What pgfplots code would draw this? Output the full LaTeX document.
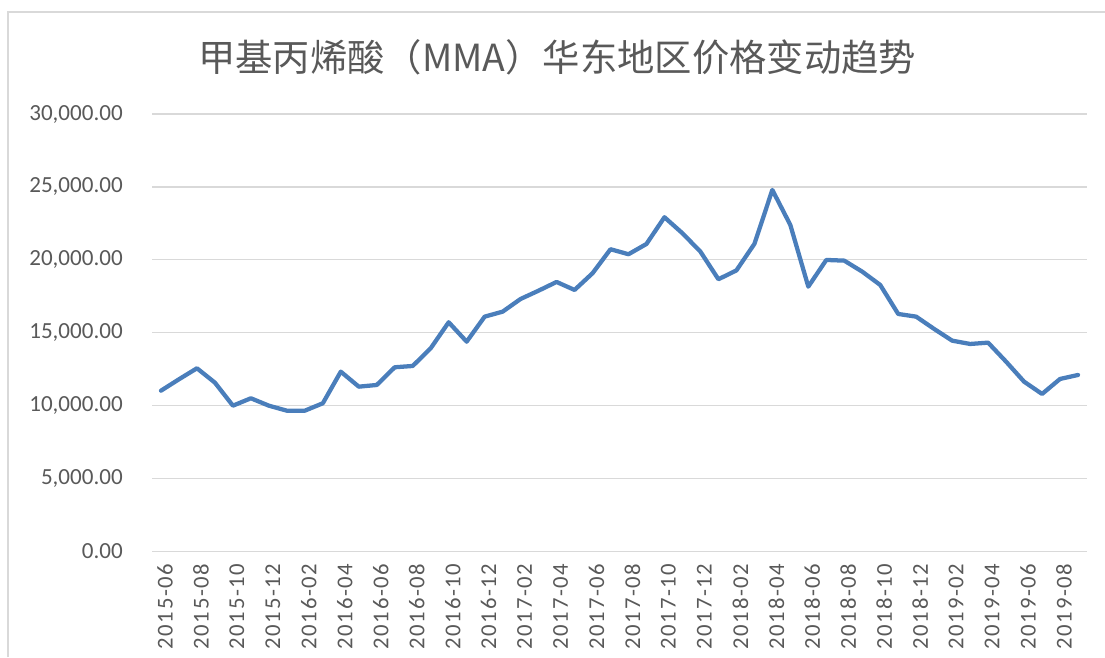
\documentclass[border=0pt]{standalone}
\usepackage{pgfplots}
\pgfplotsset{compat=1.18}
\usepackage{fontspec}
\setmainfont{Carlito}
\newfontfamily\cjk{Noto Sans CJK SC}
\newfontfamily\xlab[LetterSpace=7]{Carlito}
\definecolor{txtgray}{HTML}{595959}
\definecolor{gridgray}{HTML}{D9D9D9}
\definecolor{lineblue}{HTML}{4A7EBB}
\begin{document}
\begin{tikzpicture}[x=0.75pt,y=0.75pt]
\path[use as bounding box] (0,0) rectangle (1105,657);
\draw[gridgray,line width=1.5pt] (8,0) -- (8,645) -- (1110,645);
\node[txtgray,font=\cjk\fontsize{28pt}{32pt}\selectfont] at (557,600) {甲基丙烯酸（MMA）华东地区价格变动趋势};
\begin{axis}[
  at={(114pt,79.125pt)}, anchor=south west,
  scale only axis, width=701.25pt, height=328.1pt,
  xmin=-0.5, xmax=51.5, ymin=0, ymax=30000,
  axis line style={draw=none},
  ytick={0,5000,...,30000},
  ymajorgrids, grid style={gridgray,line width=0.9pt},
  y tick style={draw=none},
  yticklabel style={txtgray,font=\fontsize{17.3pt}{20pt}\selectfont,anchor=east,inner sep=0pt,xshift=-21.75pt},
  /pgf/number format/.cd, fixed, fixed zerofill, precision=2, 1000 sep={,}, assume math mode=true,
  /pgfplots/.cd,
  scaled y ticks=false,
  xtick={0,2,...,50},
  xticklabels={2015-06,2015-08,2015-10,2015-12,2016-02,2016-04,2016-06,2016-08,2016-10,2016-12,2017-02,2017-04,2017-06,2017-08,2017-10,2017-12,2018-02,2018-04,2018-06,2018-08,2018-10,2018-12,2019-02,2019-04,2019-06,2019-08},
  x tick style={draw=none},
  xticklabel style={txtgray,font=\xlab\fontsize{17pt}{20pt}\selectfont,rotate=90,anchor=east,inner sep=0pt,yshift=-3pt,xshift=-9pt},
  extra x ticks={-0.5,1.5,...,51.5},
  extra x tick labels={},
  extra x tick style={grid=none, tick style={draw=gridgray,line width=0.9pt}, major tick length=5pt, tick pos=bottom, tick align=outside},
  clip=false,
]
\addplot[lineblue, line width=3.2pt, line join=round, line cap=round] coordinates {
(0,11029) (1,11811) (2,12566) (3,11578) (4,10000) (5,10508) (6,10000) (7,9657)
(8,9657) (9,10165) (10,12333) (11,11304) (12,11420) (13,12634) (14,12723) (15,13937)
(16,15721) (17,14390) (18,16105) (19,16448) (20,17319) (21,17888) (22,18485) (23,17936)
(24,19082) (25,20728) (26,20385) (27,21091) (28,22923) (29,21825) (30,20563) (31,18670)
(32,19274) (33,21091) (34,24795) (35,22395) (36,18163) (37,19994) (38,19946) (39,19191)
(40,18279) (41,16290) (42,16105) (43,15261) (44,14459) (45,14232) (46,14322) (47,13018)
(48,11647) (49,10803) (50,11832) (51,12106)
};
\end{axis}
\end{tikzpicture}
\end{document}
